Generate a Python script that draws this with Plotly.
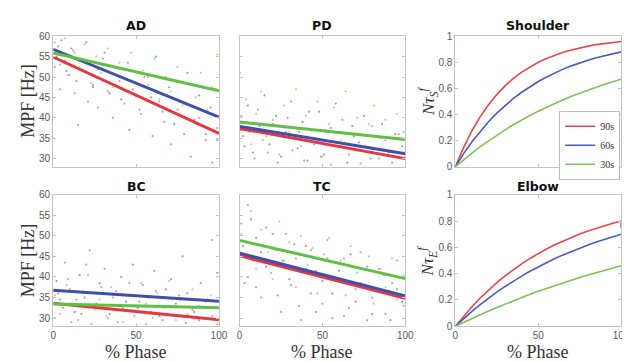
import plotly.graph_objects as go

# ---------------- data ----------------
phase_ticks = [0, 50, 100]
mpf_ticks = [30, 35, 40, 45, 50, 55, 60]
norm_ticks = [0, 0.2, 0.4, 0.6, 0.8, 1]
series_names = ["90s", "60s", "30s"]
panel_titles = ["AD", "PD", "Shoulder", "BC", "TC", "Elbow"]

fit_x = [0, 100]
ad_fit_90 = [54.9, 36.2]
ad_fit_60 = [56.8, 40.2]
ad_fit_30 = [55.9, 46.6]
pd_fit_90 = [37.4, 30.0]
pd_fit_60 = [37.9, 31.2]
pd_fit_30 = [39.0, 34.7]
bc_fit_90 = [33.6, 29.6]
bc_fit_60 = [36.8, 34.1]
bc_fit_30 = [33.4, 32.5]
tc_fit_90 = [45.2, 34.8]
tc_fit_60 = [45.8, 35.4]
tc_fit_30 = [48.9, 39.6]

# scatter samples (x = % phase, y = MPF)
ad_90_x = [1, 3, 4, 7, 9, 12, 13, 15, 18, 21, 24, 27, 30, 33, 36, 40, 43, 46, 50, 53, 57, 60, 64, 67, 71, 75, 79, 83, 88, 92, 96, 99]
ad_90_y = [52.5, 57.5, 47.0, 54.0, 50.5, 56.5, 46.0, 38.3, 51.5, 44.0, 48.0, 42.5, 54.5, 46.5, 40.0, 49.0, 43.5, 37.0, 45.5, 41.0, 50.0, 35.5, 44.0, 39.0, 33.5, 42.0, 36.0, 30.5, 40.0, 34.5, 29.0, 37.5]
ad_60_x = [2, 5, 8, 11, 14, 17, 20, 24, 27, 31, 34, 38, 41, 45, 48, 52, 55, 59, 62, 66, 70, 73, 77, 81, 85, 88, 92, 95, 98, 99]
ad_60_y = [55.0, 59.0, 51.5, 57.0, 49.0, 54.5, 58.5, 47.5, 52.0, 56.0, 46.0, 50.5, 44.5, 53.5, 47.0, 42.0, 50.0, 45.0, 55.0, 41.5, 47.5, 38.5, 44.0, 51.0, 39.5, 45.5, 36.0, 42.5, 47.0, 34.5]
ad_30_x = [1, 4, 7, 10, 13, 16, 19, 23, 26, 29, 33, 36, 40, 43, 47, 50, 54, 57, 61, 64, 68, 71, 75, 78, 82, 86, 89, 93, 96, 99]
ad_30_y = [58.5, 53.0, 59.5, 50.5, 56.0, 52.5, 58.0, 48.5, 55.0, 51.0, 57.0, 47.5, 53.5, 49.5, 56.0, 45.5, 51.5, 48.0, 54.5, 44.5, 50.0, 46.5, 52.5, 43.0, 48.5, 45.0, 51.0, 42.0, 47.5, 55.5]

pd_90_x = [1, 3, 6, 9, 11, 14, 17, 20, 23, 26, 29, 32, 36, 39, 42, 45, 49, 52, 55, 59, 62, 66, 69, 73, 76, 80, 84, 88, 92, 96, 99]
pd_90_y = [40.5, 33.0, 36.5, 30.0, 42.0, 34.5, 31.5, 38.5, 29.0, 35.5, 40.0, 32.0, 36.5, 29.5, 41.5, 33.5, 30.5, 37.0, 28.5, 34.0, 39.5, 31.0, 35.5, 28.8, 33.0, 38.0, 30.0, 34.5, 29.0, 36.0, 31.5]
pd_60_x = [0, 2, 5, 8, 12, 15, 18, 22, 25, 28, 31, 35, 38, 41, 45, 48, 51, 55, 58, 62, 65, 68, 72, 75, 79, 83, 86, 90, 94, 98]
pd_60_y = [51.0, 35.5, 43.0, 31.5, 38.0, 45.5, 33.5, 40.5, 30.5, 36.5, 44.0, 32.5, 39.0, 29.5, 35.0, 41.5, 31.0, 37.5, 43.5, 33.0, 29.0, 38.0, 34.0, 40.5, 30.0, 35.5, 38.5, 31.5, 36.0, 33.0]
pd_30_x = [1, 4, 7, 10, 13, 16, 20, 24, 27, 30, 34, 37, 40, 44, 47, 50, 54, 57, 61, 64, 67, 71, 74, 78, 81, 85, 88, 92, 95, 99]
pd_30_y = [37.0, 44.5, 33.5, 41.0, 46.5, 35.5, 39.5, 31.0, 43.0, 36.5, 47.0, 33.0, 40.5, 37.0, 44.0, 30.5, 38.5, 42.5, 34.5, 46.5, 36.0, 40.0, 32.0, 38.5, 43.0, 35.0, 39.5, 31.5, 41.0, 36.5]

bc_90_x = [1, 3, 6, 9, 11, 14, 17, 20, 23, 26, 29, 33, 36, 39, 42, 46, 49, 52, 56, 59, 62, 66, 69, 73, 76, 80, 84, 88, 92, 96, 99]
bc_90_y = [30.0, 36.0, 32.5, 39.5, 29.0, 34.5, 31.0, 43.0, 28.5, 33.5, 37.5, 30.0, 35.0, 29.0, 32.5, 38.5, 30.5, 34.0, 28.5, 31.5, 36.5, 29.5, 33.0, 30.5, 35.5, 28.8, 32.0, 29.5, 34.0, 30.5, 28.5]
bc_60_x = [2, 4, 7, 10, 13, 16, 19, 22, 25, 28, 31, 34, 38, 41, 44, 48, 51, 54, 58, 61, 64, 68, 71, 74, 78, 81, 85, 89, 93, 96, 99]
bc_60_y = [39.0, 34.5, 43.5, 37.0, 31.5, 40.5, 35.0, 46.5, 33.0, 38.5, 42.0, 31.0, 36.5, 40.0, 34.0, 43.0, 32.5, 38.0, 35.0, 41.5, 30.5, 37.0, 39.5, 33.5, 45.0, 36.0, 31.5, 38.5, 34.5, 49.0, 41.0]
bc_30_x = [1, 4, 8, 11, 15, 18, 21, 25, 28, 32, 35, 39, 42, 46, 49, 53, 56, 60, 63, 67, 70, 74, 77, 81, 84, 88, 91, 95, 98]
bc_30_y = [35.5, 31.0, 38.0, 33.5, 29.5, 36.0, 40.5, 32.0, 34.5, 30.5, 37.5, 33.0, 29.0, 35.5, 31.5, 38.5, 33.5, 30.0, 36.0, 32.5, 39.0, 29.5, 34.5, 31.0, 37.0, 33.0, 30.0, 35.5, 32.5]

tc_90_x = [1, 3, 5, 8, 10, 13, 16, 19, 22, 25, 28, 31, 34, 37, 40, 43, 46, 50, 53, 56, 60, 63, 66, 70, 73, 77, 80, 84, 88, 92, 95, 99]
tc_90_y = [53.0, 38.5, 57.5, 44.0, 49.5, 35.0, 52.0, 41.0, 46.5, 31.5, 50.5, 38.0, 44.5, 29.5, 47.5, 36.0, 41.5, 33.5, 49.0, 30.0, 39.0, 44.5, 32.5, 37.0, 46.0, 29.5, 35.0, 42.0, 31.0, 38.5, 44.0, 33.0]
tc_60_x = [2, 5, 7, 10, 13, 16, 20, 23, 26, 30, 33, 36, 40, 43, 46, 50, 53, 56, 60, 63, 67, 70, 73, 77, 80, 84, 87, 91, 95, 98]
tc_60_y = [47.5, 40.0, 54.0, 37.5, 46.0, 42.5, 50.5, 35.5, 44.0, 39.5, 48.0, 33.0, 42.0, 46.5, 31.5, 39.0, 44.5, 36.0, 41.5, 30.5, 45.5, 34.0, 38.5, 42.5, 31.0, 36.5, 40.5, 29.5, 37.0, 34.0]
tc_30_x = [1, 4, 7, 10, 13, 17, 20, 24, 27, 30, 34, 37, 41, 44, 47, 51, 54, 57, 61, 64, 67, 71, 74, 78, 81, 85, 88, 92, 95, 99]
tc_30_y = [50.5, 44.5, 56.0, 42.0, 51.5, 46.0, 39.5, 53.5, 44.0, 48.5, 37.5, 50.0, 43.0, 47.0, 36.0, 45.5, 49.5, 40.0, 44.0, 35.5, 47.5, 41.0, 38.0, 45.0, 33.5, 42.0, 37.5, 44.5, 34.5, 40.5]

# normalised fatigue curves
curve_x = [0, 5, 10, 15, 20, 25, 30, 35, 40, 45, 50, 55, 60, 65, 70, 75, 80, 85, 90, 95, 100]
shoulder_90 = [0, 0.149, 0.276, 0.384, 0.475, 0.553, 0.620, 0.677, 0.725, 0.766, 0.801, 0.830, 0.856, 0.877, 0.895, 0.911, 0.924, 0.936, 0.945, 0.953, 0.960]
shoulder_60 = [0, 0.101, 0.191, 0.272, 0.345, 0.411, 0.470, 0.524, 0.571, 0.614, 0.653, 0.688, 0.719, 0.748, 0.773, 0.796, 0.816, 0.835, 0.851, 0.866, 0.880]
shoulder_30 = [0, 0.054, 0.105, 0.154, 0.199, 0.243, 0.283, 0.322, 0.359, 0.393, 0.426, 0.457, 0.487, 0.514, 0.541, 0.565, 0.589, 0.611, 0.632, 0.652, 0.671]
elbow_90_x = [0, 5, 10, 15, 20, 25, 30, 35, 40, 45, 50, 55, 60, 65, 70, 75, 80, 85, 90, 95, 100, 100]
elbow_90 = [0, 0.077, 0.149, 0.215, 0.276, 0.332, 0.384, 0.431, 0.475, 0.516, 0.553, 0.588, 0.620, 0.649, 0.677, 0.702, 0.725, 0.746, 0.766, 0.784, 0.801, 0.745]
elbow_60 = [0, 0.058, 0.113, 0.165, 0.214, 0.260, 0.303, 0.344, 0.382, 0.419, 0.452, 0.485, 0.515, 0.543, 0.570, 0.595, 0.619, 0.641, 0.662, 0.682, 0.700]
elbow_30 = [0, 0.030, 0.060, 0.088, 0.116, 0.143, 0.169, 0.194, 0.219, 0.243, 0.266, 0.288, 0.309, 0.330, 0.351, 0.371, 0.390, 0.408, 0.426, 0.444, 0.460]

# ---------------- style ----------------
RED, BLUE, GREEN = "#e8363c", "#3f4fae", "#62bf45"
CRED, CBLUE, CGREEN = "#e8464e", "#4a5cc0", "#7cc35c"
colors = [RED, BLUE, GREEN]

W, H = 630, 362
def px_x(a, b):
    return [a / W, b / W]
def px_y(top, bottom):
    return [1 - bottom / H, 1 - top / H]

col_dom = [px_x(43, 212), px_x(233, 402), px_x(453, 622)]
row_dom = [px_y(23, 158), px_y(187, 323)]

fig = go.Figure()

mpf_panels = [
    (1, [(ad_90_x, ad_90_y), (ad_60_x, ad_60_y), (ad_30_x, ad_30_y)], [ad_fit_90, ad_fit_60, ad_fit_30]),
    (2, [(pd_90_x, pd_90_y), (pd_60_x, pd_60_y), (pd_30_x, pd_30_y)], [pd_fit_90, pd_fit_60, pd_fit_30]),
    (4, [(bc_90_x, bc_90_y), (bc_60_x, bc_60_y), (bc_30_x, bc_30_y)], [bc_fit_90, bc_fit_60, bc_fit_30]),
    (5, [(tc_90_x, tc_90_y), (tc_60_x, tc_60_y), (tc_30_x, tc_30_y)], [tc_fit_90, tc_fit_60, tc_fit_30]),
]

def axname(i):
    return ("x" if i == 1 else f"x{i}"), ("y" if i == 1 else f"y{i}")

for idx, pts, fits in mpf_panels:
    xa, ya = axname(idx)
    for (sx, sy), c in zip(pts, colors):
        fig.add_trace(go.Scatter(x=sx, y=sy, mode="markers", xaxis=xa, yaxis=ya,
                                 marker=dict(color=c, size=2.2, opacity=0.55),
                                 showlegend=False, hoverinfo="skip"))
    for fy, c in zip(fits, colors):
        fig.add_trace(go.Scatter(x=fit_x, y=fy, mode="lines", xaxis=xa, yaxis=ya,
                                 line=dict(color=c, width=3), showlegend=False))

for name, yv, c in zip(series_names, [shoulder_90, shoulder_60, shoulder_30], [CRED, CBLUE, CGREEN]):
    fig.add_trace(go.Scatter(x=curve_x, y=yv, mode="lines", xaxis="x3", yaxis="y3",
                             line=dict(color=c, width=1.6), name=name, showlegend=True))

for xv, yv, c in zip([elbow_90_x, curve_x, curve_x], [elbow_90, elbow_60, elbow_30], [CRED, CBLUE, CGREEN]):
    fig.add_trace(go.Scatter(x=xv, y=yv, mode="lines", xaxis="x6", yaxis="y6",
                             line=dict(color=c, width=1.6), showlegend=False))

tickfont = dict(family="Liberation Sans, Arial, sans-serif", size=10, color="#5a5a5a")
def base_axis():
    return dict(showline=True, linecolor="#c4c4c4", linewidth=1, mirror="ticks",
                ticks="inside", ticklen=3, tickcolor="#c4c4c4", showgrid=False,
                zeroline=False, tickfont=tickfont)

layout_axes = {}
for i in range(1, 7):
    r = 0 if i <= 3 else 1
    c = (i - 1) % 3
    xk = "xaxis" if i == 1 else f"xaxis{i}"
    yk = "yaxis" if i == 1 else f"yaxis{i}"
    xa, ya = axname(i)
    xd = base_axis()
    xd.update(domain=col_dom[c], anchor=ya, range=[0, 100], tickvals=phase_ticks,
              showticklabels=(r == 1))
    yd = base_axis()
    if c == 2:
        yd.update(range=[0, 1], tickvals=norm_ticks, ticktext=["0", "0.2", "0.4", "0.6", "0.8", "1"])
    else:
        yd.update(range=[28, 60], tickvals=mpf_ticks, showticklabels=(c == 0))
    yd.update(domain=row_dom[r], anchor=xa)
    layout_axes[xk] = xd
    layout_axes[yk] = yd

fig.update_layout(**layout_axes)

annotations = []
title_font = dict(family="DejaVu Sans, sans-serif", size=12.5, color="#111111")
serif = "Liberation Serif, DejaVu Serif, serif"
for i, t in enumerate(panel_titles):
    r = 0 if i < 3 else 1
    c = i % 3
    xc = sum(col_dom[c]) / 2
    yc = 1 - (12 if r == 0 else 178) / H
    annotations.append(dict(text=f"<b>{t}</b>", x=xc, y=yc, xref="paper", yref="paper",
                            showarrow=False, font=title_font, xanchor="center", yanchor="middle"))
for c in range(3):
    annotations.append(dict(text="% Phase", x=sum(col_dom[c]) / 2, y=1 - 350 / H, xref="paper", yref="paper",
                            showarrow=False, font=dict(family=serif, size=18, color="#333333"),
                            xanchor="center", yanchor="middle"))
for r, yc in enumerate([90, 255]):
    annotations.append(dict(text="MPF [Hz]", x=17 / W, y=1 - yc / H, xref="paper", yref="paper",
                            showarrow=False, textangle=-90, font=dict(family=serif, size=18, color="#333333"),
                            xanchor="center", yanchor="middle"))
for sub, yc in [("S", 90), ("E", 255)]:
    annotations.append(dict(text=f"<i>Nτ<sub>{sub}</sub><sup>f</sup></i>", x=425 / W, y=1 - yc / H,
                            xref="paper", yref="paper", showarrow=False, textangle=-90,
                            font=dict(family=serif, size=17, color="#333333"),
                            xanchor="center", yanchor="middle"))

fig.update_layout(
    width=W, height=H, autosize=False,
    margin=dict(l=0, r=0, t=0, b=0),
    paper_bgcolor="white", plot_bgcolor="white",
    annotations=annotations,
    legend=dict(x=621 / W, y=1 - 100 / H, xanchor="right", yanchor="top",
                bgcolor="white", bordercolor="#bdbdbd", borderwidth=1,
                font=dict(family="Liberation Serif", size=10, color="#333333"),
                itemwidth=30, tracegroupgap=0),
)

fig.write_html("out.html")
